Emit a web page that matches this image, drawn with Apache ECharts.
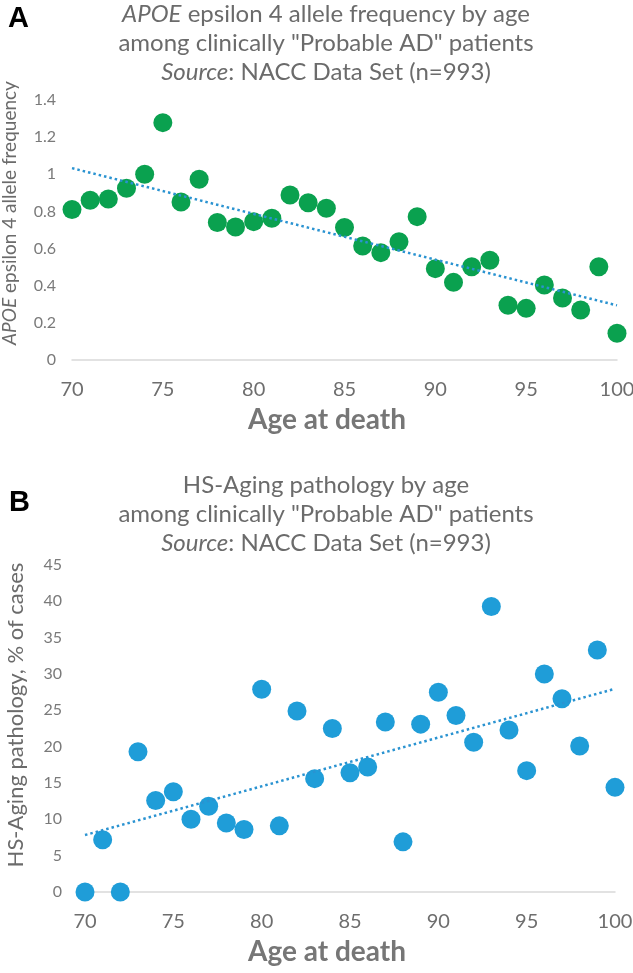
<!DOCTYPE html>
<html>
<head>
<meta charset="utf-8">
<script src="https://cdn.jsdelivr.net/npm/echarts@6/dist/echarts.min.js"></script>
<style>html,body{margin:0;padding:0;background:#fff;}#c{width:633px;height:973px;}</style>
</head>
<body>
<div id="c"></div>
<script>
// ---- data ----
const ages = [70,71,72,73,74,75,76,77,78,79,80,81,82,83,84,85,86,87,88,89,90,91,92,93,94,95,96,97,98,99,100];
const apoeFreq = [0.81,0.86,0.867,0.925,1.0,1.278,0.851,0.973,0.74,0.716,0.745,0.763,0.888,0.847,0.817,0.713,0.614,0.578,0.637,0.772,0.492,0.418,0.502,0.537,0.295,0.278,0.404,0.334,0.269,0.502,0.144];
const hsAging = [0,7.2,0,19.3,12.6,13.8,10.0,11.8,9.5,8.6,27.9,9.1,24.9,15.6,22.5,16.4,17.2,23.4,6.9,23.1,27.5,24.3,20.6,39.3,22.3,16.7,30.0,26.6,20.1,33.3,14.4];
const xTicks = [70,75,80,85,90,95,100];
const yTicksA = [0,0.2,0.4,0.6,0.8,1,1.2,1.4];
const yTicksB = [0,5,10,15,20,25,30,35,40,45];

function pairs(xs, ys){ return xs.map((x,i)=>[x, ys[i]]); }
function trend(xs, ys){
  const n = xs.length;
  const mx = xs.reduce((a,b)=>a+b,0)/n, my = ys.reduce((a,b)=>a+b,0)/n;
  let sxy=0, sxx=0;
  for(let i=0;i<n;i++){ sxy+=(xs[i]-mx)*(ys[i]-my); sxx+=(xs[i]-mx)*(xs[i]-mx); }
  const b = sxy/sxx, a = my - b*mx;
  const x0 = xs[0], x1 = xs[n-1];
  return [[x0, a+b*x0],[x1, a+b*x1]];
}

const FONT = 'Lato';
const TITLE_C = '#6b6b6b';
const TICK_C = '#6e6e6e';
const GREEN = '#0aa14f';
const BLUE = '#1f9dd8';
const TREND = '#2a93d1';

function titleText(first){
  return first + '\namong clinically "Probable AD" patients\n{i|Source}: NACC Data Set (n=993)';
}
const titleStyle = {
  fontFamily: FONT, fontSize: 24, fontWeight: 'normal', color: TITLE_C, lineHeight: 29,
  rich: { i: { fontFamily: FONT, fontSize: 24, fontStyle: 'italic', color: TITLE_C, lineHeight: 29 } }
};

function xAxisCfg(gi, padR){
  return {
    gridIndex: gi, type: 'value', min: 70, max: 100, interval: 5,
    axisLine: { show: true, lineStyle: { color: '#d9d9d9', width: 1.5 } },
    axisTick: { show: false }, splitLine: { show: false },
    axisLabel: { fontFamily: FONT, fontSize: 20, color: TICK_C, margin: 20,
      customValues: xTicks },
    name: 'Age at death', nameLocation: 'middle', nameGap: 46,
    nameTextStyle: { fontFamily: FONT, fontSize: 28, fontWeight: 'bold', color: '#767676', padding: [0, padR, 0, 0] }
  };
}

const option = {
  animation: false,
  backgroundColor: '#fff',
  title: [
    { text: 'A', left: 8, top: 4, padding: 0, textStyle: { fontFamily: 'Liberation Sans', fontWeight: 'bold', fontSize: 29, color: '#000' } },
    { text: titleText('{i|APOE} epsilon 4 allele frequency by age'), left: 326, textAlign: 'center', top: 0, padding: 0, textStyle: titleStyle },
    { text: 'B', left: 9, top: 488, padding: 0, textStyle: { fontFamily: 'Liberation Sans', fontWeight: 'bold', fontSize: 29, color: '#000' } },
    { text: titleText('HS-Aging pathology by age'), left: 326, textAlign: 'center', top: 471, padding: 0, textStyle: titleStyle }
  ],
  grid: [
    { left: 72, top: 100, width: 545, height: 260, outerBoundsMode: 'none', containLabel: false },
    { left: 85, top: 565, width: 530, height: 327, outerBoundsMode: 'none', containLabel: false }
  ],
  xAxis: [ xAxisCfg(0, 35), xAxisCfg(1, 46) ],
  yAxis: [
    { gridIndex: 0, type: 'value', min: 0, max: 1.4, interval: 0.2,
      axisLine: { show: false }, axisTick: { show: false }, splitLine: { show: false },
      axisLabel: { fontFamily: FONT, fontSize: 16, color: '#7a7a7a', margin: 16, customValues: yTicksA },
      name: '{i|APOE} epsilon 4 allele frequency', nameLocation: 'middle', nameGap: 53,
      nameTextStyle: { fontFamily: FONT, fontSize: 19, color: TITLE_C, padding: [0, 0, 0, 34],
        rich: { i: { fontFamily: FONT, fontSize: 19, fontStyle: 'italic', color: TITLE_C } } } },
    { gridIndex: 1, type: 'value', min: 0, max: 45, interval: 5,
      axisLine: { show: false }, axisTick: { show: false }, splitLine: { show: false },
      axisLabel: { fontFamily: FONT, fontSize: 16, color: '#7a7a7a', margin: 23, customValues: yTicksB },
      name: '{n|HS-Aging pathology, % of cases}', nameLocation: 'middle', nameGap: 58,
      nameTextStyle: { fontFamily: FONT, fontSize: 22, color: TITLE_C, padding: [0, 0, 0, 27],
        rich: { n: { fontFamily: FONT, fontSize: 22, color: TITLE_C } } } }
  ],
  series: [
    { type: 'scatter', xAxisIndex: 0, yAxisIndex: 0, data: pairs(ages, apoeFreq), symbolSize: 19,
      itemStyle: { color: GREEN, opacity: 1 }, z: 2 },
    { type: 'line', xAxisIndex: 0, yAxisIndex: 0, data: trend(ages, apoeFreq), symbol: 'none',
      lineStyle: { color: TREND, width: 2.5, type: [2.5, 3] }, z: 3 },
    { type: 'scatter', xAxisIndex: 1, yAxisIndex: 1, data: pairs(ages, hsAging), symbolSize: 19,
      itemStyle: { color: BLUE, opacity: 1 }, z: 2 },
    { type: 'line', xAxisIndex: 1, yAxisIndex: 1, data: trend(ages, hsAging), symbol: 'none',
      lineStyle: { color: TREND, width: 2.5, type: [2.5, 3] }, z: 3 }
  ]
};
const chart = echarts.init(document.getElementById('c'), null, { renderer: 'canvas' });
chart.setOption(option);
</script>
</body>
</html>
